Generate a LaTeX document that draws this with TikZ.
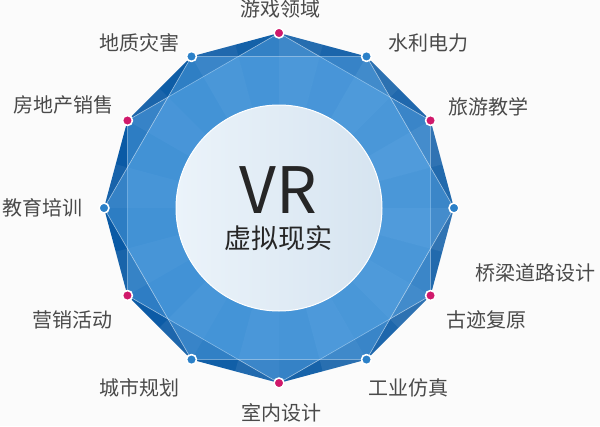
\documentclass[tikz,border=0pt]{standalone}
\usepackage{fontspec}
\setmainfont{Noto Sans CJK SC}
\definecolor{gemdark}{HTML}{0A5AA5}
\definecolor{gemlight}{HTML}{62B2F2}
\definecolor{dotred}{HTML}{D0196B}
\definecolor{dotblue}{HTML}{2B80C8}
\definecolor{labgray}{HTML}{4A4A4A}
\definecolor{coreleft}{HTML}{EBF3FA}
\definecolor{coreright}{HTML}{D6E4F0}
\begin{document}
\begin{tikzpicture}[x=1pt, y=-1pt, line join=round, line cap=round,
	lab/.style={text=labgray, font=\fontsize{20}{24}\selectfont, inner sep=0pt},
	dot/.style={circle, draw=white, line width=1.6pt, inner sep=0pt, minimum size=10pt}]
	\def\cx{279} \def\cy{208} \def\R{175} \def\r{103}
	\pgfmathsetmacro\Rm{\R*cos(15)}
	\useasboundingbox[fill=white!97!gray] (0,0) rectangle (600,426);
	\foreach \k in {0,...,11} \coordinate (v\k) at ({\cx+\R*cos(30*\k)},{\cy-\R*sin(30*\k)});
	\fill[gemdark] (v0) \foreach \k in {1,...,11}{--(v\k)} --cycle;
	% facets
	\foreach \i in {0,...,23}{
		\pgfmathsetmacro\ra{mod(\i,2)==0 ? \R : \Rm}
		\pgfmathsetmacro\rb{mod(\i,2)==0 ? \Rm : \R}
		\pgfmathsetmacro\op{0.05+0.05*cos(15*\i+7.5)+(mod(\i,2)==1 ? 0.06 : 0)}
		\fill[white, opacity=\op] (\cx,\cy) -- ({\cx+\ra*cos(15*\i)},{\cy-\ra*sin(15*\i)})
		-- ({\cx+\rb*cos(15*\i+15)},{\cy-\rb*sin(15*\i+15)}) -- cycle;
	}
	\filldraw[fill=gemlight, fill opacity=.4, draw=white, draw opacity=.55, line width=.6pt]
		(v1)--(v3)--(v5)--(v7)--(v9)--(v11)--cycle;
	\filldraw[fill=gemlight, fill opacity=.4, draw=white, draw opacity=.55, line width=.6pt]
		(v0)--(v2)--(v4)--(v6)--(v8)--(v10)--cycle;
	\shade[left color=coreleft, right color=coreright] (\cx,\cy) circle (\r pt);
	\draw[white, line width=1pt] (\cx,\cy) circle (\r pt);
	\node[text=black!85] (vr) at (278,190) {\fontsize{64}{64}\selectfont VR};
	\node[text=black!85] (xnxs) at (278,238) {\fontsize{27}{30}\selectfont 虚拟现实};
	\foreach \k/\c in {0/dotblue,1/dotred,2/dotblue,3/dotred,4/dotblue,5/dotred,
		6/dotblue,7/dotred,8/dotblue,9/dotred,10/dotblue,11/dotred}
		\node[dot, fill=\c] (d\k) at (v\k) {};
	\foreach \t/\x/\y [count=\n] in {游戏领域/280/9, 水利电力/428/43, 地质灾害/139/43,
		旅游教学/488/107, 房地产销售/63/105, 教育培训/42/208, 桥梁道路设计/535/273,
		古迹复原/486/320, 营销活动/72/320, 城市规划/139/388, 工业仿真/408/388, 室内设计/281/413}
		\node[lab] (l\n) at (\x,\y) {\t};
\end{tikzpicture}
\end{document}
